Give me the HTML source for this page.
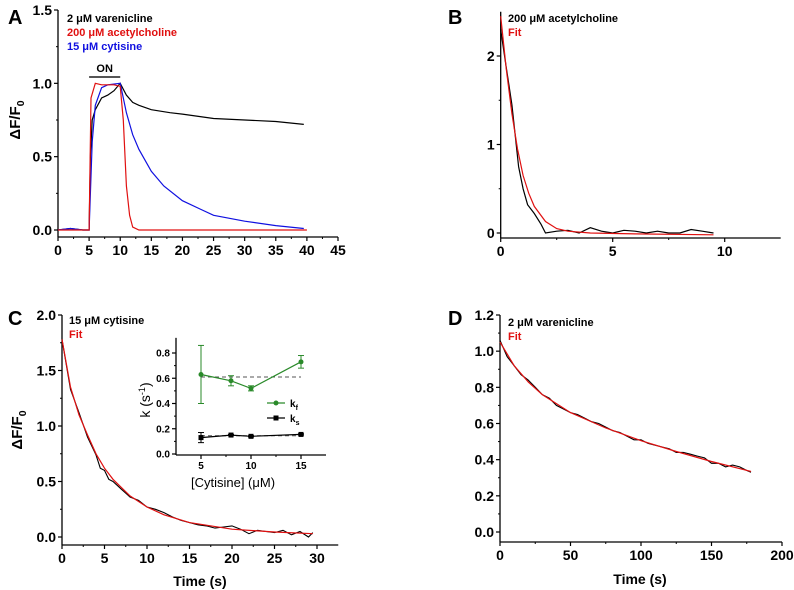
<!DOCTYPE html>
<html><head><meta charset="utf-8"><style>
body{margin:0;background:#fff}
svg{display:block;font-family:"Liberation Sans",Arial,sans-serif}
</style></head><body>
<svg id="fig" width="794" height="590" viewBox="0 0 794 590"></svg>
<script>
// ---------- Panel A data ----------
const aT_var=[0,2,4,5,5.2,5.5,6,7,8,9,10,11,12,13,15,18,20,25,30,35,39.5];
const aY_var=[0,0.01,0,0,0.5,0.75,0.82,0.9,0.92,0.95,1.0,0.92,0.87,0.85,0.82,0.8,0.79,0.76,0.75,0.74,0.72];
const aT_ach=[0,2,4,5,5.3,6,7,9,10,10.5,11,11.5,12,13,20,30,40];
const aY_ach=[0,0,0,0,0.9,1.0,0.99,0.99,0.98,0.75,0.3,0.1,0.02,0,0,0,0];
const aT_cyt=[0,2,4,5,5.5,6,7,8,10,11,12,13,15,17,20,23,25,30,35,39.5];
const aY_cyt=[0,0.01,0,0,0.6,0.85,0.97,0.99,1.0,0.8,0.65,0.55,0.4,0.3,0.2,0.14,0.1,0.06,0.03,0.01];
const aXTicks=[0,5,10,15,20,25,30,35,40,45];
const aYTicks=[0,0.5,1.0,1.5];
// ---------- Panel B data ----------
const bT_dat=[0,0.2,0.5,0.8,1,1.2,1.5,1.8,2,2.5,3,3.5,4,4.5,5,5.5,6,6.5,7,7.5,8,8.5,9,9.5];
const bY_dat=[2.3,1.95,1.45,0.75,0.5,0.32,0.22,0.1,0.0,0.02,0.03,0.0,0.06,0.02,0.0,0.03,0.02,0.0,0.02,0.0,0.0,0.04,0.02,0.0];
const bT_fit=[0,0.25,0.5,0.75,1,1.25,1.5,2,2.5,3,4,6,9.5];
const bY_fit=[2.45,1.85,1.35,0.95,0.65,0.45,0.3,0.13,0.05,0.02,0,-0.01,-0.02];
const bXTicks=[0,5,10];
const bYTicks=[0,1,2];
// ---------- Panel C data ----------
const cT_fit=[0,1,2,3,4,5,6,8,10,12,15,20,25,29.5];
const cY_fit=[1.78,1.35,1.1,0.92,0.75,0.62,0.52,0.37,0.27,0.2,0.13,0.07,0.045,0.03];
const cT_dat=[0,1,2,3,4,4.5,5,5.5,6,7,8,9,10,11,12,13,14,15,16,17,18,19,20,21,22,23,24,25,26,27,28,29,29.5];
const cY_dat=[1.78,1.33,1.12,0.9,0.74,0.62,0.6,0.52,0.5,0.43,0.36,0.33,0.27,0.25,0.22,0.18,0.15,0.13,0.11,0.1,0.08,0.09,0.1,0.07,0.03,0.06,0.05,0.04,0.06,0.02,0.05,0.0,0.04];
const cXTicks=[0,5,10,15,20,25,30];
const cYTicks=[0,0.5,1.0,1.5,2.0];
// inset
const iConc=[5,8,10,15];
const iKf=[0.63,0.58,0.52,0.73];
const iKfErr=[0.23,0.04,0.02,0.05];
const iKs=[0.13,0.15,0.14,0.155];
const iKsErr=[0.04,0.005,0.005,0.005];
const iKfMean=0.61, iKsMean=0.145;
const iXTicks=[5,10,15];
const iYTicks=[0,0.2,0.4,0.6,0.8];
// ---------- Panel D data ----------
const dT_fit=[0,10,20,30,50,75,100,125,150,178];
const dY_fit=[1.05,0.92,0.83,0.76,0.66,0.575,0.505,0.445,0.39,0.335];
const dT_dat=[0,5,10,15,20,25,30,35,40,45,50,55,60,65,70,75,80,85,90,95,100,105,110,115,120,125,130,135,140,145,150,155,160,165,170,175,178];
const dY_dat=[1.06,0.97,0.92,0.87,0.84,0.8,0.76,0.74,0.7,0.68,0.66,0.65,0.63,0.61,0.6,0.58,0.56,0.55,0.53,0.51,0.51,0.49,0.48,0.47,0.46,0.44,0.44,0.43,0.42,0.41,0.38,0.38,0.36,0.37,0.36,0.34,0.33];
const dXTicks=[0,50,100,150,200];
const dYTicks=[0,0.2,0.4,0.6,0.8,1.0,1.2];

const NS="http://www.w3.org/2000/svg";
const svg=document.getElementById('fig');
function el(tag,attrs,parent){const e=document.createElementNS(NS,tag);for(const k in attrs)e.setAttribute(k,attrs[k]);(parent||svg).appendChild(e);return e;}
function txt(s,x,y,size,fill,anchor,weight,parent){const t=el('text',{x:x,y:y,'font-size':size,fill:fill,'text-anchor':anchor||'start','font-weight':weight||'bold'},parent);t.textContent=s;return t;}
function lin(d0,d1,r0,r1){return v=>r0+(v-d0)*(r1-r0)/(d1-d0);}
function poly(xs,ys,sx,sy,color,w,name,parent){
  const p=el('polyline',{points:xs.map((x,i)=>sx(x).toFixed(1)+','+sy(ys[i]).toFixed(1)).join(' '),fill:'none',stroke:color,'stroke-width':w||1.2},parent);
  
  
  return p;
}
function axes(g,sx,sy,xmin,xmax,ymin,ymax,xt,yt,xAxisY,yAxisX,fs,fmtY,minorX,minorY,fmtX){
  el('line',{x1:yAxisX,y1:sy(ymax),x2:yAxisX,y2:xAxisY,stroke:'#000','stroke-width':1.3},g);
  el('line',{x1:yAxisX,y1:xAxisY,x2:sx(xmax),y2:xAxisY,stroke:'#000','stroke-width':1.3},g);
  xt.forEach(v=>{const x=sx(v);el('line',{x1:x,y1:xAxisY,x2:x,y2:xAxisY+4,stroke:'#000','stroke-width':1.2},g);
    txt(fmtX?fmtX(v):String(v),x,xAxisY+fs+4,fs,'#000','middle','bold',g);});
  if(minorX)for(let i=0;i<xt.length-1;i++){const x=sx((xt[i]+xt[i+1])/2);el('line',{x1:x,y1:xAxisY,x2:x,y2:xAxisY+2,stroke:'#000'},g);}
  yt.forEach(v=>{const y=sy(v);el('line',{x1:yAxisX-4,y1:y,x2:yAxisX,y2:y,stroke:'#000','stroke-width':1.2},g);
    txt(fmtY(v),yAxisX-6,y+fs*0.36,fs,'#000','end','bold',g);});
  if(minorY)for(let i=0;i<yt.length-1;i++){const y=sy((yt[i]+yt[i+1])/2);el('line',{x1:yAxisX-2,y1:y,x2:yAxisX,y2:y,stroke:'#000'},g);}
}
function ylab(g,x,y,size){
  const t=el('text',{x:x,y:y,'font-size':size,'font-weight':'bold','text-anchor':'middle',transform:`rotate(-90 ${x} ${y})`},g);
  
  t.innerHTML='ΔF/F<tspan font-size="'+(size*0.7)+'" dy="4">0</tspan>';
}
function group(name){const g=el('g',{});return g;}

// ===== Panel A =====
{const g=group('panel-a');
 const sx=lin(0,45,58,338), sy=lin(0,1.5,230,10);
 axes(g,sx,sy,0,45,0,1.5,aXTicks,aYTicks,237,58,14,v=>v.toFixed(1),true,true);
 ylab(g,20,120,15);
 txt('A',8,24,20,'#000','start','bold',g);
 poly(aT_var,aY_var,sx,sy,'#000',1.2,'varenicline-trace',g);
 poly(aT_cyt,aY_cyt,sx,sy,'#1010e0',1.2,'cytisine-trace',g);
 poly(aT_ach,aY_ach,sx,sy,'#e01010',1.2,'acetylcholine-trace',g);
 el('line',{x1:sx(5),y1:77,x2:sx(10),y2:77,stroke:'#555','stroke-width':2},g);
 txt('ON',sx(7.5),72,11,'#000','middle','bold',g);
 txt('2 μM varenicline',67,22,11,'#000','start','bold',g);
 txt('200 μM acetylcholine',67,36,11,'#e01010','start','bold',g);
 txt('15 μM cytisine',67,50,11,'#1010e0','start','bold',g);
}
// ===== Panel B =====
{const g=group('panel-b');
 const sx=lin(0,5,500.7,612.7), sy=lin(0,2,233,56);
 axes(g,sx,sy,0,12.5,-0.05,2.5,bXTicks,bYTicks,238,500.7,14,v=>String(v),true,true);
 txt('B',448,24,20,'#000','start','bold',g);
 poly(bT_dat,bY_dat,sx,sy,'#000',1.2,'acetylcholine-data',g);
 poly(bT_fit,bY_fit,sx,sy,'#e01010',1.2,'fit-curve',g);
 txt('200 μM acetylcholine',508,22,11,'#000','start','bold',g);
 txt('Fit',508,36,11,'#e01010','start','bold',g);
}
// ===== Panel C =====
{const g=group('panel-c');
 const sx=lin(0,30,62,317), sy=lin(0,2,537,315);
 axes(g,sx,sy,0,32.5,-0.05,2.0,cXTicks,cYTicks,545,62,14,v=>v.toFixed(1),true,true);
 ylab(g,22,430,15);
 txt('C',8,325,20,'#000','start','bold',g);
 poly(cT_dat,cY_dat,sx,sy,'#000',1.1,'cytisine-data',g);
 poly(cT_fit,cY_fit,sx,sy,'#e01010',1.2,'fit-curve',g);
 txt('15 μM cytisine',69,324,11,'#000','start','bold',g);
 txt('Fit',69,338,11,'#e01010','start','bold',g);
 txt('Time (s)',200,586,14,'#000','middle','bold',g);
 // inset
 const ig=group('inset-rate-chart');g.appendChild(ig);
 const ix=lin(5,15,201,301), iy=lin(0,0.8,454,353);
 axes(ig,ix,iy,2.5,17.5,0,0.92,iXTicks,iYTicks,455,176,10,v=>v.toFixed(1),true,true);
 const yl=el('text',{x:150,y:400,'font-size':14,'text-anchor':'middle',transform:'rotate(-90 150 400)'},ig);
 yl.innerHTML='k (s<tspan font-size="9" dy="-5">-1</tspan><tspan dy="5">)</tspan>';
 txt('[Cytisine] (μM)',233,487,13,'#000','middle','normal',ig);
 el('line',{x1:ix(5),y1:iy(iKfMean),x2:ix(15),y2:iy(iKfMean),stroke:'#555','stroke-dasharray':'4,3'},ig);
 el('line',{x1:ix(5),y1:iy(iKsMean),x2:ix(15),y2:iy(iKsMean),stroke:'#555','stroke-dasharray':'4,3'},ig);
 poly(iConc,iKf,ix,iy,'#2a8a2a',1.2,'kf-line',ig);
 poly(iConc,iKs,ix,iy,'#000',1.2,'ks-line',ig);
 iConc.forEach((c,i)=>{
  const x=ix(c);
  el('line',{x1:x,y1:iy(iKf[i]-iKfErr[i]),x2:x,y2:iy(iKf[i]+iKfErr[i]),stroke:'#2a8a2a'},ig);
  [iKf[i]-iKfErr[i],iKf[i]+iKfErr[i]].forEach(v=>el('line',{x1:x-3,y1:iy(v),x2:x+3,y2:iy(v),stroke:'#2a8a2a'},ig));
  const p=el('circle',{cx:x,cy:iy(iKf[i]),r:2.5,fill:'#2a8a2a'},ig);
  
  
  el('line',{x1:x,y1:iy(iKs[i]-iKsErr[i]),x2:x,y2:iy(iKs[i]+iKsErr[i]),stroke:'#000'},ig);
  [iKs[i]-iKsErr[i],iKs[i]+iKsErr[i]].forEach(v=>el('line',{x1:x-3,y1:iy(v),x2:x+3,y2:iy(v),stroke:'#000'},ig));
  const q=el('rect',{x:x-2.5,y:iy(iKs[i])-2.5,width:5,height:5,fill:'#000'},ig);
  
  
 });
 el('line',{x1:267,y1:403,x2:285,y2:403,stroke:'#2a8a2a','stroke-width':1.2},ig);
 el('circle',{cx:276,cy:403,r:2.5,fill:'#2a8a2a'},ig);
 const kf=txt('k',290,407,10,'#000','start','bold',ig);kf.innerHTML='k<tspan font-size="7" dy="3">f</tspan>';
 el('line',{x1:267,y1:418,x2:285,y2:418,stroke:'#000','stroke-width':1.2},ig);
 el('rect',{x:273.5,y:415.5,width:5,height:5,fill:'#000'},ig);
 const ks=txt('k',290,422,10,'#000','start','bold',ig);ks.innerHTML='k<tspan font-size="7" dy="3">s</tspan>';
}
// ===== Panel D =====
{const g=group('panel-d');
 const sx=lin(0,200,500,782), sy=lin(0,1.2,532,315);
 axes(g,sx,sy,0,200,-0.05,1.2,dXTicks,dYTicks,542,500,14,v=>v.toFixed(1),true,true);
 txt('D',448,325,20,'#000','start','bold',g);
 poly(dT_dat,dY_dat,sx,sy,'#000',1.1,'varenicline-data',g);
 poly(dT_fit,dY_fit,sx,sy,'#e01010',1.2,'fit-curve',g);
 txt('2 μM varenicline',508,326,11,'#000','start','bold',g);
 txt('Fit',508,340,11,'#e01010','start','bold',g);
 txt('Time (s)',640,584,14,'#000','middle','bold',g);
}
</script>
</body></html>
